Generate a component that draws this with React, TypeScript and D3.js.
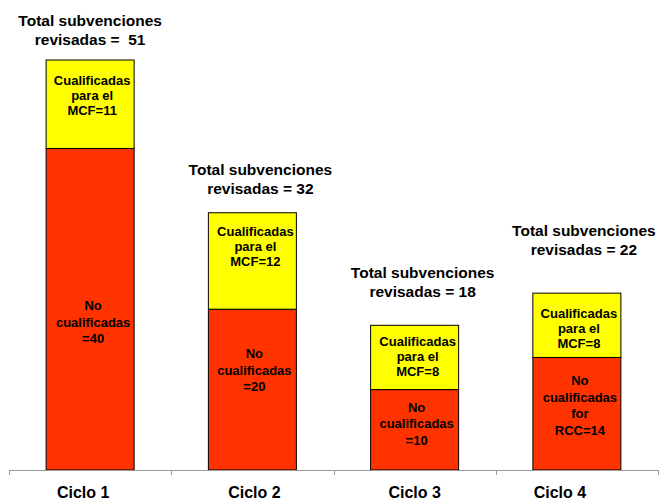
import React from "react";
import * as d3 from "d3";

const categories = ["Ciclo 1", "Ciclo 2", "Ciclo 3", "Ciclo 4"];
const qualified = [11, 12, 8, 8];
const notQualified = [40, 20, 10, 14];
const totalPrefix = ["revisadas =  ", "revisadas = ", "revisadas = ", "revisadas = "];
const qualifiedLabels = [
  ["Cualificadas", "para el", "MCF=11"],
  ["Cualificadas", "para el", "MCF=12"],
  ["Cualificadas", "para el", "MCF=8"],
  ["Cualificadas", "para el", "MCF=8"],
];
const notQualifiedLabels = [
  ["No", "cualificadas", "=40"],
  ["No", "cualificadas", "=20"],
  ["No", "cualificadas", "=10"],
  ["No", "cualificadas", "for", "RCC=14"],
];

// annotation layout (text box placements as in the original slide)
const titleGap = [15, 19, 28, 38];
const titleDx = [0, 8, 8, 7];
const yellowGap = [25, 23, 21, 25];
const yellowDx = [2, 3, 3, 2];
const redGap = [162, 49, 22, 28];
const redDx = [3, 2, 2, 3];
const catDx = [-7, 2, 0, -17];

const W = 659;
const H = 501;
const FONT = "Liberation Sans, Arial, Helvetica, sans-serif";

export default function App() {
  const x = d3
    .scaleBand<string>()
    .domain(categories)
    .range([9, 658])
    .paddingInner(0.4576)
    .paddingOuter(0.2288);
  const step = x.step();
  const axisStart = 9;
  const totals = categories.map((_, i) => qualified[i] + notQualified[i]);
  const y = d3.scaleLinear().domain([0, 51]).range([470, 60]);
  const bw = x.bandwidth();

  return (
    <div style={{ position: "absolute", left: 0, top: 0 }}>
      <svg width={W} height={H} style={{ display: "block" }} fontFamily={FONT}>
        <rect width={W} height={H} fill="#fff" />
        {categories.map((c, i) => {
          const x0 = x(c)!;
          const cx = x0 + bw / 2;
          const topRed = y(notQualified[i]);
          const topAll = y(totals[i]);
          return (
            <g key={c}>
              <rect x={x0} y={topRed} width={bw} height={y(0) - topRed} fill="#FF3300" stroke="#000" strokeWidth={1} />
              <rect x={x0} y={topAll} width={bw} height={topRed - topAll} fill="#FFFF00" stroke="#000" strokeWidth={1} />
              {qualifiedLabels[i].map((t, j) => (
                <text key={"q" + j} x={cx + yellowDx[i]} y={topAll + yellowGap[i] + j * 15} textAnchor="middle" fontSize={13} fontWeight="bold" fill="#000">
                  {t}
                </text>
              ))}
              {notQualifiedLabels[i].map((t, j) => (
                <text key={"n" + j} x={cx + redDx[i]} y={topRed + redGap[i] + j * 16.5} textAnchor="middle" fontSize={13} fontWeight="bold" fill="#000">
                  {t}
                </text>
              ))}
              <text x={cx + titleDx[i]} y={topAll - titleGap[i] - 19} textAnchor="middle" fontSize={15.5} fontWeight="bold" fill="#000">
                Total subvenciones
              </text>
              <text x={cx + titleDx[i]} y={topAll - titleGap[i]} textAnchor="middle" fontSize={15.5} fontWeight="bold" fill="#000" style={{ whiteSpace: "pre" }}>
                {totalPrefix[i] + totals[i]}
              </text>
              <text x={cx + catDx[i]} y={498} textAnchor="middle" fontSize={16} fontWeight="bold" fill="#000">
                {c}
              </text>
            </g>
          );
        })}
        <line x1={axisStart} x2={axisStart + step * categories.length} y1={470.5} y2={470.5} stroke="#999" strokeWidth={1} />
        {d3.range(categories.length + 1).map((k) => (
          <line key={k} x1={Math.round(axisStart + k * step) + 0.5} x2={Math.round(axisStart + k * step) + 0.5} y1={470} y2={475} stroke="#999" strokeWidth={1} />
        ))}
      </svg>
    </div>
  );
}
